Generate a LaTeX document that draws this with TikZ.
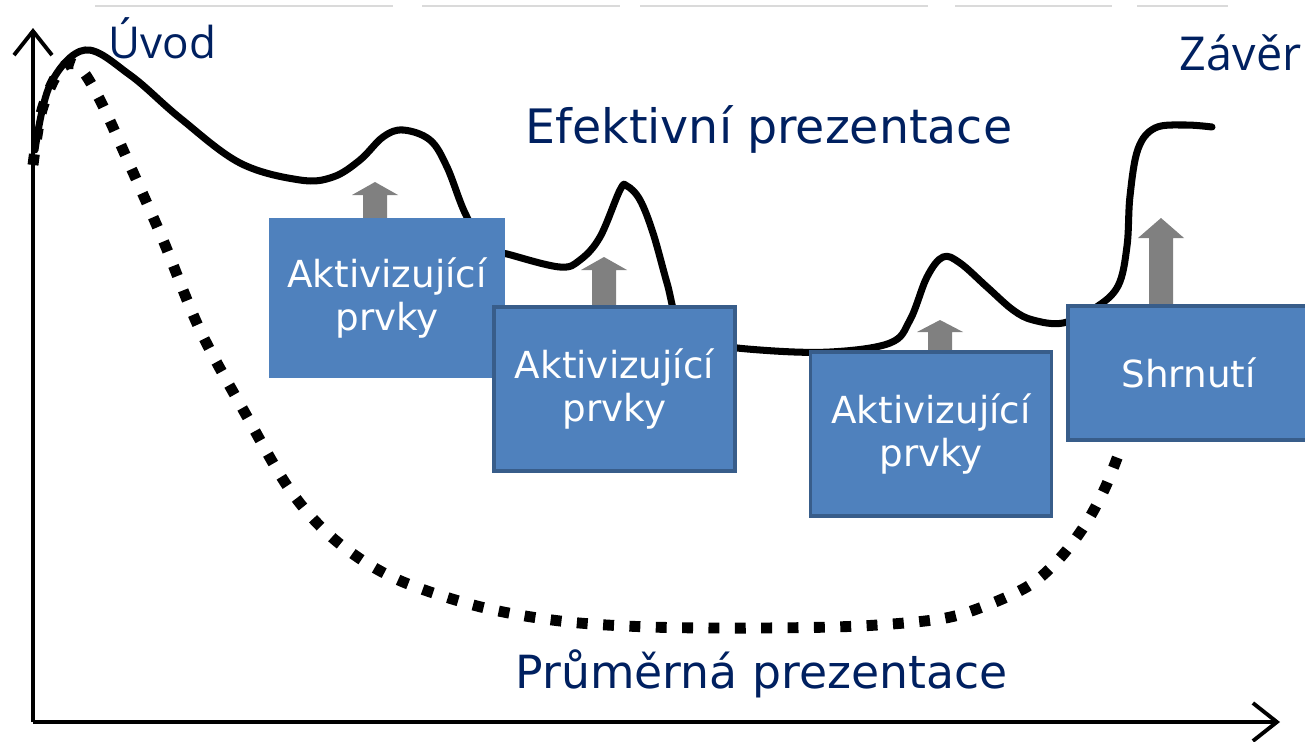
\documentclass[tikz,border=0pt]{standalone}
\usepackage{fontspec}
\setmainfont{DejaVu Sans}
\newfontfamily\nadpisfont{Open Sans}
\usetikzlibrary{arrows.meta}

\definecolor{navy}{RGB}{0,32,96}
\definecolor{boxblue}{RGB}{79,129,189}
\definecolor{boxedge}{RGB}{56,93,138}
\definecolor{arrowgray}{RGB}{128,128,128}
\definecolor{linegray}{RGB}{218,218,218}

\tikzset{
  osa/.style={line width=1.1pt, -{Straight Barb[length=2.4mm,width=3.8mm]}},
  krivka/.style={line width=2pt, line cap=round, line join=round},
  tecky/.style={line width=3.1pt, dash pattern=on 3.1pt off 4.4pt},
  blok/.style={fill=boxblue, text=white, align=center, inner sep=0pt,
    minimum width=2.36cm, minimum height=1.60cm,
    font=\fontsize{10.6}{12.2}\selectfont},
  blokr/.style={blok, draw=boxedge, line width=1.1pt,
    minimum width=2.41cm, minimum height=1.64cm},
  popis/.style={text=navy, inner sep=0pt, font=\fontsize{13.5}{16}\selectfont},
  kraj/.style={text=navy, inner sep=0pt, font=\nadpisfont\fontsize{12.5}{15}\selectfont}
}

\begin{document}
\begin{tikzpicture}

\useasboundingbox (0,0) rectangle (13.05,7.41);
\clip (0,0) rectangle (13.05,7.41);

\foreach \a/\b in {0.95/3.93, 4.22/6.20, 6.40/9.28, 9.55/11.12, 11.37/12.28}
  \draw[linegray, line width=0.6pt] (\a,7.35) -- (\b,7.35);

\coordinate (O) at (0.33,0.19);
\coordinate (Y) at (0.33,7.13);
\coordinate (X) at (12.80,0.19);
\draw[osa] (O) -- (Y);
\draw[osa] (O) -- (X);

\draw[tecky] plot[smooth, tension=0.55] coordinates {
  (0.33,5.76) (0.42,6.31) (0.60,6.71) (0.78,6.75) (1.00,6.41) (1.32,5.71)
  (1.63,5.01) (2.00,4.11) (2.45,3.28) (2.90,2.51) (3.35,2.01) (3.94,1.63)
  (4.77,1.35) (5.60,1.20) (6.50,1.14) (7.60,1.13) (8.60,1.15) (9.40,1.22)
  (9.85,1.35) (10.30,1.56) (10.60,1.83) (10.85,2.16) (11.05,2.53) (11.22,2.96)};

\draw[krivka] plot[smooth, tension=0.6] coordinates {
  (0.35,5.91) (0.50,6.56) (0.85,6.91) (1.30,6.66) (1.80,6.23) (2.40,5.78)
  (3.00,5.61) (3.33,5.64) (3.60,5.81) (3.83,6.04) (4.03,6.11) (4.30,6.01)
  (4.47,5.74) (4.65,5.28) (4.85,4.95) (5.11,4.86) (5.60,4.74) (5.80,4.81)
  (6.00,5.04) (6.20,5.51) (6.27,5.55) (6.40,5.41) (6.53,5.08) (6.67,4.58)
  (6.80,4.15) (7.10,3.98) (7.60,3.91) (8.30,3.89) (8.90,3.98) (9.10,4.21)
  (9.27,4.64) (9.43,4.84) (9.60,4.78) (9.87,4.54) (10.13,4.31) (10.33,4.21)
  (10.63,4.18) (10.95,4.33) (11.18,4.55) (11.27,4.95) (11.30,5.45) (11.38,5.92)
  (11.55,6.13) (11.85,6.16) (12.12,6.14)};

\foreach \x/\t/\h/\e in {3.75/5.59/5.46/5.10, 6.04/4.84/4.71/4.25,
                         9.40/4.21/4.09/3.80, 11.61/5.23/5.03/4.25}
  \fill[arrowgray] ({\x-0.12},\e) -- ({\x-0.12},\h) -- ({\x-0.23},\h) -- (\x,\t)
    -- ({\x+0.23},\h) -- ({\x+0.12},\h) -- ({\x+0.12},\e) -- cycle;

\node[blok] (prvky1) at (3.87,4.43) {Aktivizující\\prvky};
\node[blokr] (prvky2) at (6.145,3.52) {Aktivizující\\prvky};
\node[blokr] (prvky3) at (9.31,3.07) {Aktivizující\\prvky};
\node[blokr, minimum height=1.34cm] (shrnuti) at (11.885,3.68) {Shrnutí};

\node[kraj, anchor=base west] (uvod) at (1.08,6.83) {Úvod};
\node[kraj, anchor=base east, font=\nadpisfont\fontsize{13.3}{15}\selectfont]
  (zaver) at (13.02,6.71) {Závěr};
\node[popis, anchor=base west] (efekt) at (5.25,5.98) {Efektivní prezentace};
\node[popis, anchor=base west, font=\fontsize{13}{16}\selectfont]
  (prumer) at (5.15,0.53) {Průměrná prezentace};
\end{tikzpicture}
\end{document}
